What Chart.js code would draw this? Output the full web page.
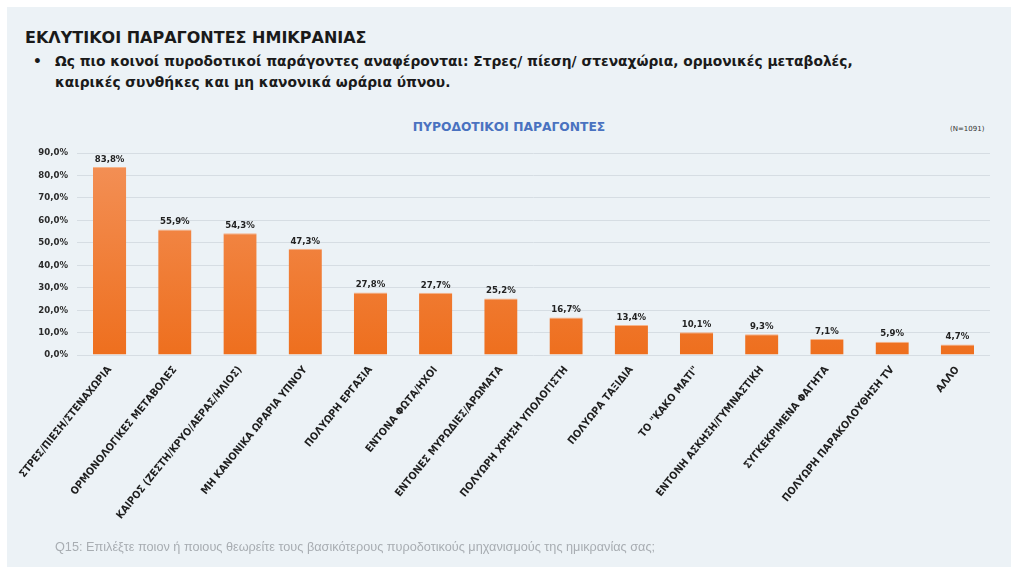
<!DOCTYPE html>
<html>
<head>
<meta charset="utf-8">
<script src="https://cdn.jsdelivr.net/npm/chart.js@4"></script>
<style>
  body { margin: 0; background: #ffffff; }
  #panel {
    position: absolute; left: 7px; top: 7px; width: 1004px; height: 560px;
    background: #ecf2f6; overflow: hidden;
  }
  #head {
    position: absolute; left: 18px; top: 21px;
    font: bold 16px "DejaVu Sans", sans-serif; color: #1a1a1a;
  }
  #bullet {
    position: absolute; left: 26px; top: 44px;
    font: bold 13.8px "DejaVu Sans", sans-serif; color: #1a1a1a; line-height: 21px;
  }
  #bullet .dot { position: absolute; left: 0; top: 0; }
  #bullet .txt { margin-left: 22px; }
  #ctitle {
    position: absolute; left: 0; width: 1004px; top: 113px; text-align: center;
    font: bold 12.3px "DejaVu Sans", sans-serif; color: #4a72c0;
  }
  #nn {
    position: absolute; left: 943px; top: 118px;
    font: 7px "DejaVu Sans", sans-serif; color: #333;
  }
  #foot {
    position: absolute; left: 48px; top: 533px;
    font: 12.7px "Liberation Sans", sans-serif; color: #a8adb2;
  }
  #wrap { position: absolute; left: -7px; top: 97px; width: 1011px; height: 437px; }
</style>
</head>
<body>
<div id="panel">
  <div id="head">ΕΚΛΥΤΙΚΟΙ ΠΑΡΑΓΟΝΤΕΣ ΗΜΙΚΡΑΝΙΑΣ</div>
  <div id="bullet"><span class="dot">•</span><div class="txt">Ως πιο κοινοί πυροδοτικοί παράγοντες αναφέρονται: Στρες/ πίεση/ στεναχώρια, ορμονικές μεταβολές,<br>καιρικές συνθήκες και μη κανονικά ωράρια ύπνου.</div></div>
  <div id="ctitle">ΠΥΡΟΔΟΤΙΚΟΙ ΠΑΡΑΓΟΝΤΕΣ</div>
  <div id="nn">(N=1091)</div>
  <div id="wrap"><canvas id="chart"></canvas></div>
  <div id="foot">Q15: Επιλέξτε ποιον ή ποιους θεωρείτε τους βασικότερους πυροδοτικούς μηχανισμούς της ημικρανίας σας;</div>
</div>
<script>
let categories = [
    "ΣΤΡΕΣ/ΠΙΕΣΗ/ΣΤΕΝΑΧΩΡΙΑ",
    "ΟΡΜΟΝΟΛΟΓΙΚΕΣ ΜΕΤΑΒΟΛΕΣ",
    "ΚΑΙΡΟΣ (ΖΕΣΤΗ/ΚΡΥΟ/ΑΕΡΑΣ/ΗΛΙΟΣ)",
    "ΜΗ ΚΑΝΟΝΙΚΑ ΩΡΑΡΙΑ ΥΠΝΟΥ",
    "ΠΟΛΥΩΡΗ ΕΡΓΑΣΙΑ",
    "ΕΝΤΟΝΑ ΦΩΤΑ/ΗΧΟΙ",
    "ΕΝΤΟΝΕΣ ΜΥΡΩΔΙΕΣ/ΑΡΩΜΑΤΑ",
    "ΠΟΛΥΩΡΗ ΧΡΗΣΗ ΥΠΟΛΟΓΙΣΤΗ",
    "ΠΟΛΥΩΡΑ ΤΑΞΙΔΙΑ",
    "ΤΟ \"ΚΑΚΟ ΜΑΤΙ\"",
    "ΕΝΤΟΝΗ ΑΣΚΗΣΗ/ΓΥΜΝΑΣΤΙΚΗ",
    "ΣΥΓΚΕΚΡΙΜΕΝΑ ΦΑΓΗΤΑ",
    "ΠΟΛΥΩΡΗ ΠΑΡΑΚΟΛΟΥΘΗΣΗ TV",
    "ΑΛΛΟ"
];
let values = [83.8, 55.9, 54.3, 47.3, 27.8, 27.7, 25.2, 16.7, 13.4, 10.1, 9.3, 7.1, 5.9, 4.7];
let yMax = 90;
let yStep = 10;

function pct(v) {
    return v.toFixed(1).replace(".", ",") + "%";
}

// value labels above the bars
let barLabels = {
    id: "barLabels",
    afterDatasetsDraw(chart) {
        let ctx = chart.ctx;
        let meta = chart.getDatasetMeta(0);
        ctx.save();
        ctx.font = "bold 9.5px 'DejaVu Sans Condensed', 'DejaVu Sans', sans-serif";
        ctx.fillStyle = "#222";
        ctx.textAlign = "center";
        ctx.textBaseline = "bottom";
        meta.data.forEach((bar, i) => {
            ctx.fillText(pct(values[i]), bar.x, bar.y - 3);
        });
        ctx.restore();
    }
};

function barFill(context) {
    let area = context.chart.chartArea;
    if (!area) return "#f07a30";
    let g = context.chart.ctx.createLinearGradient(0, area.top, 0, area.bottom);
    g.addColorStop(0, "#f39158");
    g.addColorStop(1, "#ee6f1e");
    return g;
}

let ctx = document.getElementById("chart").getContext("2d");
let chart = new Chart(ctx, {
    type: "bar",
    data: {
        labels: categories,
        datasets: [{
            data: values,
            backgroundColor: barFill,
            borderColor: "#f6b48a",
            borderWidth: { top: 1, left: 0, right: 0, bottom: 0 },
            borderSkipped: false,
            categoryPercentage: 1,
            barPercentage: 0.51
        }]
    },
    options: {
        responsive: true,
        maintainAspectRatio: false,
        animation: false,
        layout: { padding: { top: 49, right: 21, left: 0, bottom: 0 } },
        plugins: {
            legend: { display: false },
            tooltip: { enabled: false }
        },
        scales: {
            x: {
                grid: { display: false },
                border: { display: false },
                ticks: {
                    autoSkip: false,
                    minRotation: 51,
                    maxRotation: 51,
                    padding: 1,
                    color: "#1e1e1e",
                    font: { family: "'DejaVu Sans Condensed', 'DejaVu Sans', sans-serif", weight: "bold", size: 10.5 }
                },
                afterFit: (s) => { s.height = 186; }
            },
            y: {
                min: 0,
                max: yMax,
                grid: { color: "#d6dde3", drawTicks: false },
                border: { display: false },
                ticks: {
                    stepSize: yStep,
                    padding: 9,
                    color: "#2a2a2a",
                    font: { family: "'DejaVu Sans Condensed', 'DejaVu Sans', sans-serif", weight: "bold", size: 9.5 },
                    callback: (v) => pct(v)
                },
                afterFit: (s) => { s.width = 77; }
            }
        }
    },
    plugins: [barLabels]
});
</script>
</body>
</html>
